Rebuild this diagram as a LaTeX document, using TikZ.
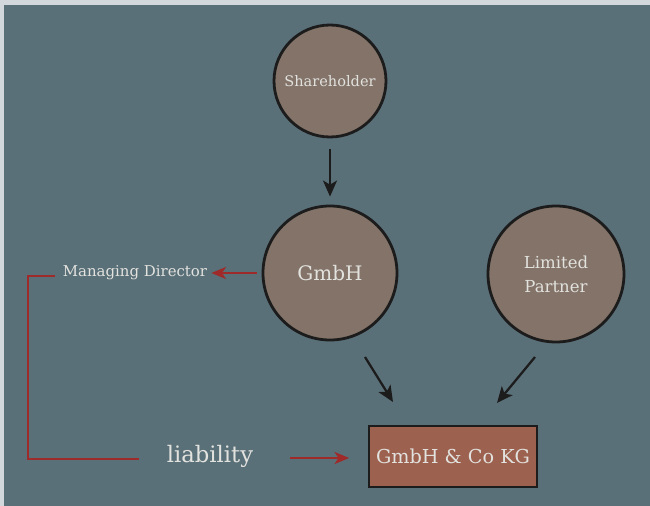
\documentclass[tikz,border=0pt]{standalone}
\usepackage{fontspec}
\setmainfont{DejaVu Serif}
\usetikzlibrary{arrows.meta}
\definecolor{bgc}{HTML}{5A7078}
\definecolor{framec}{HTML}{D3D8DC}
\definecolor{circc}{HTML}{837369}
\definecolor{boxc}{HTML}{9C614F}
\definecolor{txtc}{HTML}{E2E2DE}
\definecolor{redc}{HTML}{9E2A2A}
\definecolor{inkc}{HTML}{1C1C1C}
\begin{document}
\begin{tikzpicture}[x=0.75pt,y=-0.75pt,
  entity/.style={circle,draw=inkc,fill=circc,line width=2.1pt,text=txtc,align=center,inner sep=0pt},
  flow/.style={draw=inkc,line width=1.7pt,-{Stealth[length=12pt,width=10.5pt,inset=3pt]}},
  redflow/.style={draw=redc,line width=1.6pt,-{Stealth[length=11pt,width=9pt,inset=3pt]}},
  redline/.style={draw=redc,line width=1.6pt},
  lbl/.style={text=txtc,inner sep=0pt}]
\useasboundingbox (0,0) rectangle (650,506);
\fill[framec] (0,0) rectangle (650,506);
\fill[bgc] (4,5) rectangle (650,506);

\node[entity,minimum size=84pt,font=\fontsize{10.9}{13}\selectfont] (sh) at (330,81) {Shareholder};
\node[entity,minimum size=100.5pt,font=\fontsize{15}{18}\selectfont] (gmbh) at (330,273) {GmbH};
\node[entity,minimum size=102pt,font=\fontsize{12.4}{18}\selectfont] (lp) at (556,274) {Limited\\Partner};
\node[draw=inkc,fill=boxc,line width=1.7pt,minimum width=126pt,minimum height=45.75pt,text=txtc,
  font=\fontsize{14.4}{17}\selectfont] (kg) at (453,456.5) {GmbH \& Co KG};
\node[lbl,font=\fontsize{11.2}{13}\selectfont] (md) at (135,273) {Managing Director};
\node[lbl,font=\fontsize{17}{20}\selectfont] (liab) at (210,456) {liability};

\draw[flow] (sh) -- (gmbh) [shorten <=8pt, shorten >=6pt];
\coordinate (g1) at (365,357);
\coordinate (g2) at (393,402);
\coordinate (l1) at (535,357);
\coordinate (l2) at (497,403);
\draw[flow] (g1) -- (g2);
\draw[flow] (l1) -- (l2);

\draw[redflow] (gmbh.west) ++(-5,0) coordinate (m1) -- ([xshift=3pt]md.east);
\coordinate (r0) at (55,276);
\coordinate (r1) at (28,276);
\coordinate (r2) at (139,459);
\draw[redline] (r0) -- (r1) |- (r2);
\coordinate (a1) at (290,458);
\draw[redflow] (a1) -- ([xshift=-14pt]kg.west |- a1);
\end{tikzpicture}
\end{document}
